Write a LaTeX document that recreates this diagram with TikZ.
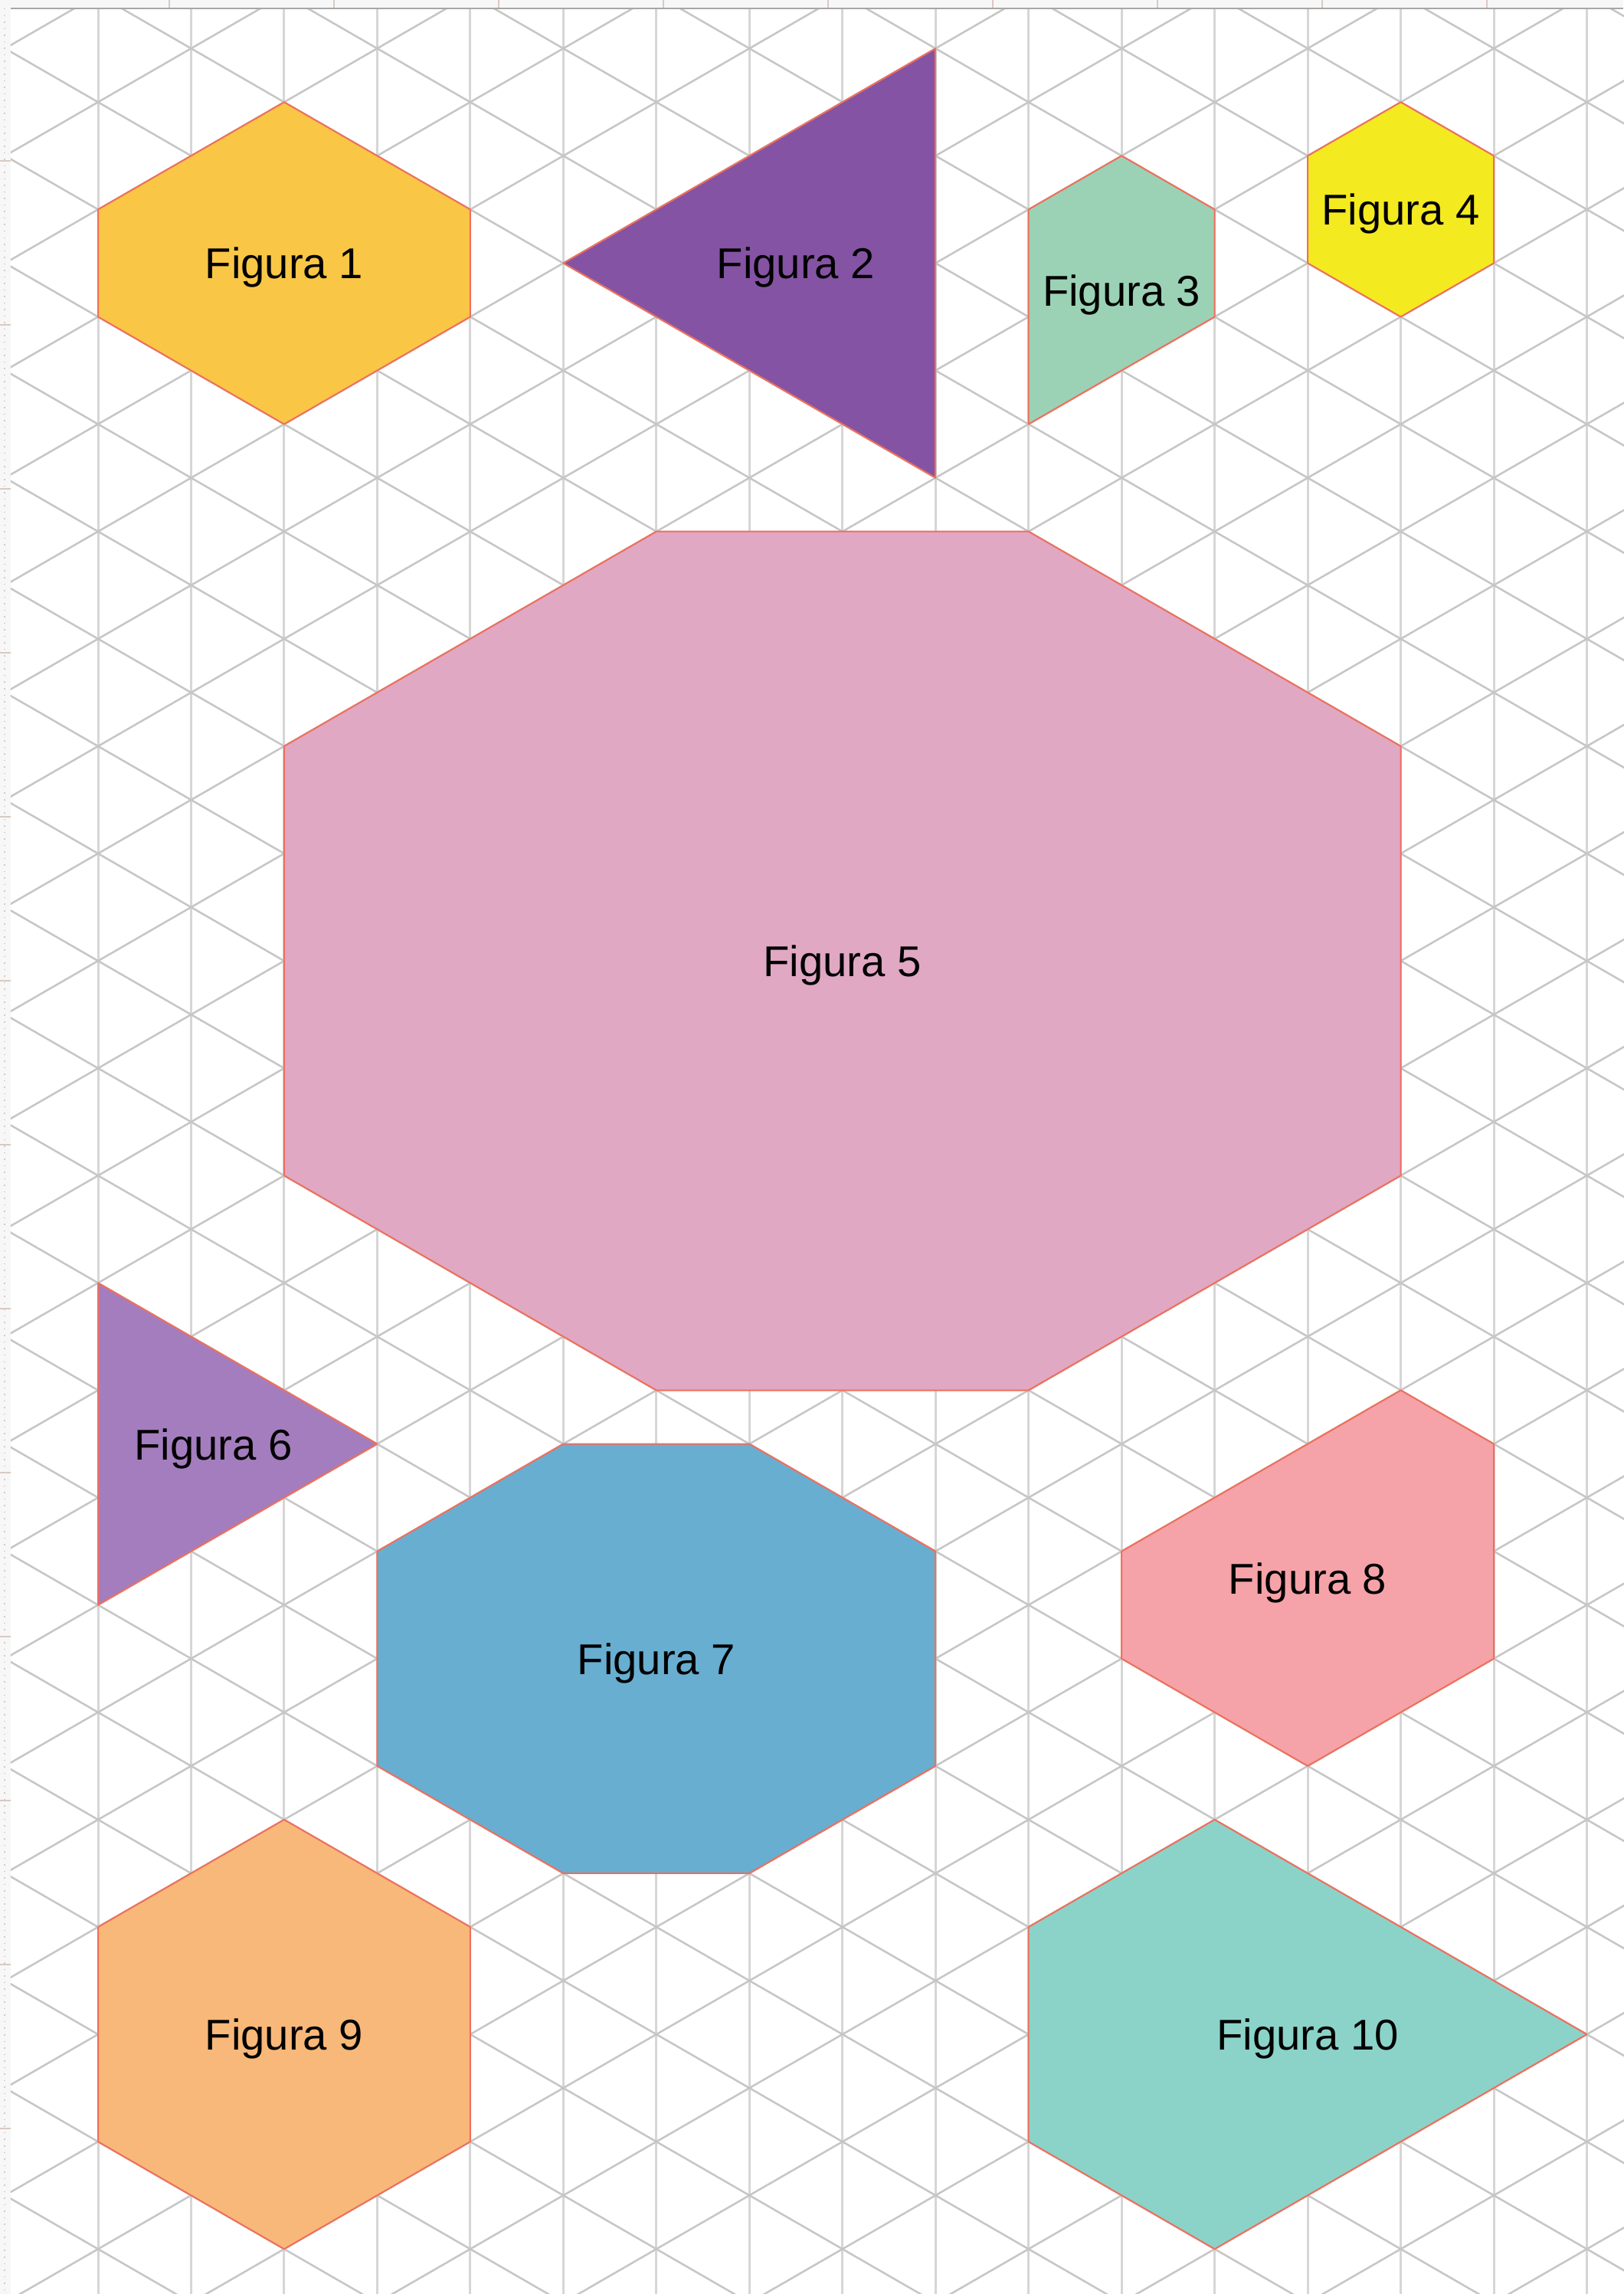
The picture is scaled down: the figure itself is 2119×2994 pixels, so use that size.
\documentclass[tikz,border=0pt]{standalone}
\usepackage{fontspec}
\setmainfont{Liberation Sans}
\definecolor{rulerbg}{HTML}{F7F7F7}
\definecolor{rulertick}{HTML}{D9C9C2}
\definecolor{gridv}{HTML}{D6D6D6}
\definecolor{gridd}{HTML}{C6C6C6}
\definecolor{figline}{HTML}{EF6F5C}
\definecolor{figA}{HTML}{F9C646}
\definecolor{figB}{HTML}{8553A3}
\definecolor{figC}{HTML}{9BD2B5}
\definecolor{figD}{HTML}{F4EA20}
\definecolor{figE}{HTML}{E0A8C3}
\definecolor{figF}{HTML}{A47DBE}
\definecolor{figG}{HTML}{68AED1}
\definecolor{figH}{HTML}{F5A3A8}
\definecolor{figI}{HTML}{F8B879}
\definecolor{figJ}{HTML}{8BD3C9}
\tikzset{
  isogrid/.style={shift={(12.8mm,-13.33mm)}, x=12.147mm, y=-7.005mm},
  figedge/.style={draw=figline, line width=0.2mm, line join=round},
  figlabel/.style={font=\fontsize{16}{19}\selectfont, text=black, inner sep=0pt, yshift=-0.6mm},
}

\begin{document}
\begin{tikzpicture}[x=0.1mm, y=-0.1mm]

\useasboundingbox (0,0) rectangle (2119,2994);
\fill[white] (0,0) rectangle (2119,2994);

% rulers
\fill[rulerbg] (0,0) rectangle (2119,11);
\fill[rulerbg] (0,0) rectangle (14,2994);
\draw[rulertick, dotted, line width=0.15mm] (6,11) -- (6,2994);
\foreach \t in {1,...,9}
  \draw[rulertick, line width=0.15mm] (6+215*\t,0) -- (6+215*\t,10);
\foreach \t in {1,...,13}
  \draw[rulertick, line width=0.15mm] (0,214*\t-4) -- (14,214*\t-4);
\draw[gray!70, line width=0.2mm] (14,11.5) -- (2119,11.5);

\begin{scope}[isogrid]
\clip (-0.9385,-1.72) rectangle (16.4,40.9);
\foreach \k in {-1,...,16}
  \draw[gridv, line width=0.3mm] (\k,-2) -- (\k,41);
\foreach \c in {-18,-16,...,42}
  \draw[gridd, line width=0.25mm] (-1,-1+\c) -- (17,17+\c);
\foreach \c in {-4,-2,...,58}
  \draw[gridd, line width=0.25mm] (-1,1+\c) -- (17,\c-17);
\end{scope}

\begin{scope}[isogrid]
\filldraw[figedge, fill=figA] (0,2) -- (2,0) -- (4,2) -- (4,4) -- (2,6) -- (0,4) -- cycle;
\node[figlabel] (fig1) at (2,3) {Figura 1};

\filldraw[figedge, fill=figB] (5,3) -- (9,-1) -- (9,7) -- cycle;
\node[figlabel] (fig2) at (7.5,3) {Figura 2};

\filldraw[figedge, fill=figC] (10,2) -- (11,1) -- (12,2) -- (12,4) -- (10,6) -- cycle;
\node[figlabel] (fig3) at (11,3.5) {Figura 3};

\filldraw[figedge, fill=figD] (14,0) -- (15,1) -- (15,3) -- (14,4) -- (13,3) -- (13,1) -- cycle;
\node[figlabel] (fig4) at (14,2) {Figura 4};

\filldraw[figedge, fill=figE] (6,8) -- (10,8) -- (14,12) -- (14,20) -- (10,24) -- (6,24) -- (2,20) -- (2,12) -- cycle;
\node[figlabel] (fig5) at (8,16) {Figura 5};

\filldraw[figedge, fill=figF] (0,22) -- (3,25) -- (0,28) -- cycle;
\node[figlabel] (fig6) at (1.24,25) {Figura 6};

\filldraw[figedge, fill=figG] (5,25) -- (7,25) -- (9,27) -- (9,31) -- (7,33) -- (5,33) -- (3,31) -- (3,27) -- cycle;
\node[figlabel] (fig7) at (6,29) {Figura 7};

\filldraw[figedge, fill=figH] (11,27) -- (14,24) -- (15,25) -- (15,29) -- (13,31) -- (11,29) -- cycle;
\node[figlabel] (fig8) at (13,27.5) {Figura 8};

\filldraw[figedge, fill=figI] (0,34) -- (2,32) -- (4,34) -- (4,38) -- (2,40) -- (0,38) -- cycle;
\node[figlabel] (fig9) at (2,36) {Figura 9};

\filldraw[figedge, fill=figJ] (10,34) -- (12,32) -- (16,36) -- (12,40) -- (10,38) -- cycle;
\node[figlabel] (fig10) at (13,36) {Figura 10};
\end{scope}

\end{tikzpicture}
\end{document}
